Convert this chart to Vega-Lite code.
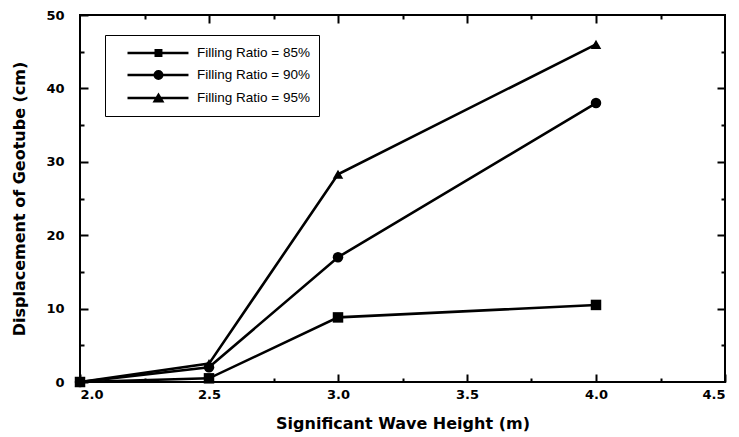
{
  "$schema": "https://vega.github.io/schema/vega-lite/v6.json",
  "width": 645,
  "height": 367,
  "autosize": {"type": "none"},
  "padding": {"left": 80, "top": 15, "right": 14, "bottom": 55},
  "background": "white",
  "config": {
    "view": {"stroke": "black", "strokeWidth": 2},
    "font": "DejaVu Sans",
    "axis": {
      "grid": false,
      "domain": false,
      "tickColor": "black",
      "tickWidth": 2,
      "labelFont": "DejaVu Sans",
      "labelFontWeight": "bold",
      "labelFontSize": 13,
      "labelColor": "black",
      "titleFont": "DejaVu Sans",
      "titleFontWeight": "bold",
      "titleFontSize": 16,
      "titleColor": "black"
    }
  },
  "data": {
    "values": [
      {"series": "Filling Ratio = 85%", "h": 2.0, "d": 0},
      {"series": "Filling Ratio = 85%", "h": 2.5, "d": 0.5},
      {"series": "Filling Ratio = 85%", "h": 3.0, "d": 8.8},
      {"series": "Filling Ratio = 85%", "h": 4.0, "d": 10.5},
      {"series": "Filling Ratio = 90%", "h": 2.0, "d": 0},
      {"series": "Filling Ratio = 90%", "h": 2.5, "d": 2.0},
      {"series": "Filling Ratio = 90%", "h": 3.0, "d": 17.0},
      {"series": "Filling Ratio = 90%", "h": 4.0, "d": 38.0},
      {"series": "Filling Ratio = 95%", "h": 2.0, "d": 0},
      {"series": "Filling Ratio = 95%", "h": 2.5, "d": 2.5},
      {"series": "Filling Ratio = 95%", "h": 3.0, "d": 28.3},
      {"series": "Filling Ratio = 95%", "h": 4.0, "d": 46.0}
    ]
  },
  "resolve": {
    "scale": {"shape": "independent"},
    "axis": {"x": "independent", "y": "independent"}
  },
  "layer": [
    {
      "mark": {"type": "line", "color": "black", "strokeWidth": 2.6},
      "encoding": {
        "x": {
          "field": "h", "type": "quantitative",
          "scale": {"domain": [2, 4.5], "nice": false, "zero": false},
          "axis": {"orient": "bottom", "values": [2, 2.5, 3, 3.5, 4, 4.5], "format": ".1f", "tickSize": -8, "labelPadding": 14, "title": "Significant Wave Height (m)", "titlePadding": 14}
        },
        "y": {
          "field": "d", "type": "quantitative",
          "scale": {"domain": [0, 50], "nice": false},
          "axis": {"orient": "left", "values": [0, 10, 20, 30, 40, 50], "format": "d", "tickSize": -8, "labelPadding": 24, "title": "Displacement of Geotube (cm)", "titlePadding": 18}
        },
        "detail": {"field": "series"}
      }
    },
    {
      "mark": {"type": "point", "filled": true, "color": "black", "opacity": 1, "size": 110},
      "encoding": {
        "x": {"field": "h", "type": "quantitative", "axis": null},
        "y": {"field": "d", "type": "quantitative", "axis": null},
        "shape": {
          "field": "series", "type": "nominal",
          "scale": {"range": ["square", "circle", "triangle-up"]},
          "legend": null
        }
      }
    },
    {
      "mark": {"type": "point", "filled": false, "color": "black", "strokeWidth": 2.5, "opacity": 0},
      "encoding": {
        "x": {"field": "h", "type": "quantitative",
          "axis": {"orient": "bottom", "values": [2.25, 2.75, 3.25, 3.75, 4.25], "tickSize": -4, "labels": false, "title": null}},
        "y": {"field": "d", "type": "quantitative",
          "axis": {"orient": "left", "values": [5, 15, 25, 35, 45], "tickSize": -4, "labels": false, "title": null}},
        "shape": {
          "field": "series", "type": "nominal",
          "scale": {"range": [
            "M0.6,0H8.73M4.2,-0.38H5.26M4.2,-0.13H5.26M4.2,0.13H5.26M4.2,0.38H5.26",
            "M0.6,0H8.73M5.23,0A0.5,0.5,0,1,1,4.23,0A0.5,0.5,0,1,1,5.23,0ZM4.91,0A0.18,0.18,0,1,1,4.55,0A0.18,0.18,0,1,1,4.91,0Z",
            "M0.6,0H8.73M4.73,-0.423L5.237,0.433H4.223ZM4.73,0.026L4.835,0.204H4.625Z"
          ]},
          "legend": {
            "orient": "none",
            "legendX": 25,
            "legendY": 20,
            "title": null,
            "symbolSize": 225,
            "symbolOpacity": 1,
            "symbolStrokeColor": "black",
            "symbolStrokeWidth": 2.5,
            "labelFont": "Liberation Sans",
            "labelFontSize": 13.5,
            "labelColor": "black",
            "labelOffset": 65,
            "rowPadding": 5,
            "strokeColor": "black",
            "fillColor": "white",
            "padding": 9
          }
        }
      }
    },
    {
      "mark": {"type": "point", "opacity": 0},
      "encoding": {
        "x": {"field": "h", "type": "quantitative",
          "axis": {"orient": "top", "values": [2.5, 3, 3.5, 4], "tickSize": -8, "labels": false, "title": null}},
        "y": {"field": "d", "type": "quantitative",
          "axis": {"orient": "right", "values": [10, 20, 30, 40], "tickSize": -8, "labels": false, "title": null}}
      }
    },
    {
      "mark": {"type": "point", "opacity": 0},
      "encoding": {
        "x": {"field": "h", "type": "quantitative",
          "axis": {"orient": "top", "values": [2.25, 2.75, 3.25, 3.75, 4.25], "tickSize": -4, "labels": false, "title": null}},
        "y": {"field": "d", "type": "quantitative",
          "axis": {"orient": "right", "values": [5, 15, 25, 35, 45], "tickSize": -4, "labels": false, "title": null}}
      }
    }
  ]
}
